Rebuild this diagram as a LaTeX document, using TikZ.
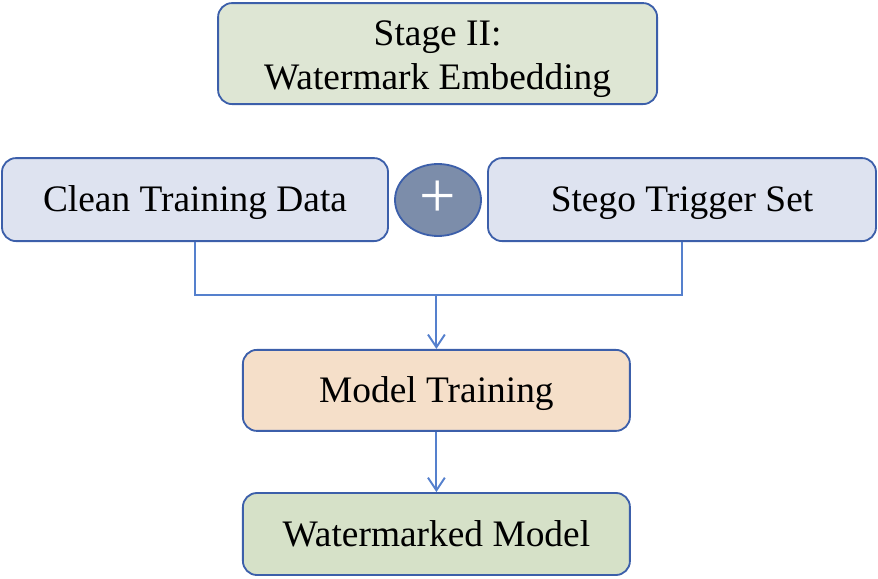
\documentclass[tikz,border=0pt]{standalone}
\usepackage{fontspec}
\setmainfont{Liberation Serif}
\usepackage{tikz}
\usetikzlibrary{arrows.meta,positioning,shapes.geometric,calc}
\definecolor{frameblue}{RGB}{60,95,170}
\definecolor{lineblue}{RGB}{85,128,205}
\definecolor{stagefill}{RGB}{222,230,212}
\definecolor{datafill}{RGB}{222,227,240}
\definecolor{plusfill}{RGB}{124,141,170}
\definecolor{trainfill}{RGB}{245,223,201}
\definecolor{modelfill}{RGB}{214,225,200}
\tikzset{
  box/.style={draw=frameblue,line width=1.3pt,rounded corners=0.35cm,
    align=center,inner sep=0pt,
    font=\fontsize{26.6}{31.3}\selectfont},
  onebox/.style={box,text height=17.5pt,text depth=0pt},
  link/.style={draw=lineblue,line width=1.4pt},
  arr/.style={link,-{Straight Barb[length=9pt,width=12pt,line width=1.4pt]}}
}

\begin{document}
\begin{tikzpicture}
\useasboundingbox (0,0) rectangle (21.95,-14.475);

% Stage title
\node[box,fill=stagefill,minimum width=10.975cm,minimum height=2.525cm,
  text height=50.6pt,text depth=0pt]
  (stage) at (10.94,-1.34) {Stage II:\\Watermark Embedding};

% Inputs
\node[onebox,fill=datafill,minimum width=9.65cm,minimum height=2.075cm]
  (clean) at (4.875,-4.99) {Clean Training Data};
\node[onebox,fill=datafill,minimum width=9.7cm,minimum height=2.075cm]
  (stego) at (17.05,-4.99) {Stego Trigger Set};
\node[ellipse,draw=frameblue,line width=1.3pt,fill=plusfill,
  minimum width=2.15cm,minimum height=1.8cm,inner sep=0pt,text=white,
  text height=25pt,text depth=0pt,
  font=\fontsize{46}{46}\selectfont] (plus) at (10.95,-5.0) {+};

% Training and output
\node[onebox,fill=trainfill,minimum width=9.675cm,minimum height=2.025cm]
  (train) at (10.91,-9.76) {Model Training};
\node[onebox,fill=modelfill,minimum width=9.675cm,minimum height=2.05cm]
  (wm) at (10.91,-13.35) {Watermarked Model};

% Connectors
\coordinate (join) at (10.91,-7.375);
\draw[link] (clean.south) |- (join) -| (stego.south);
\draw[arr] (join) -- (train.north);
\draw[arr] (train.south) -- (wm.north);
\end{tikzpicture}
\end{document}
